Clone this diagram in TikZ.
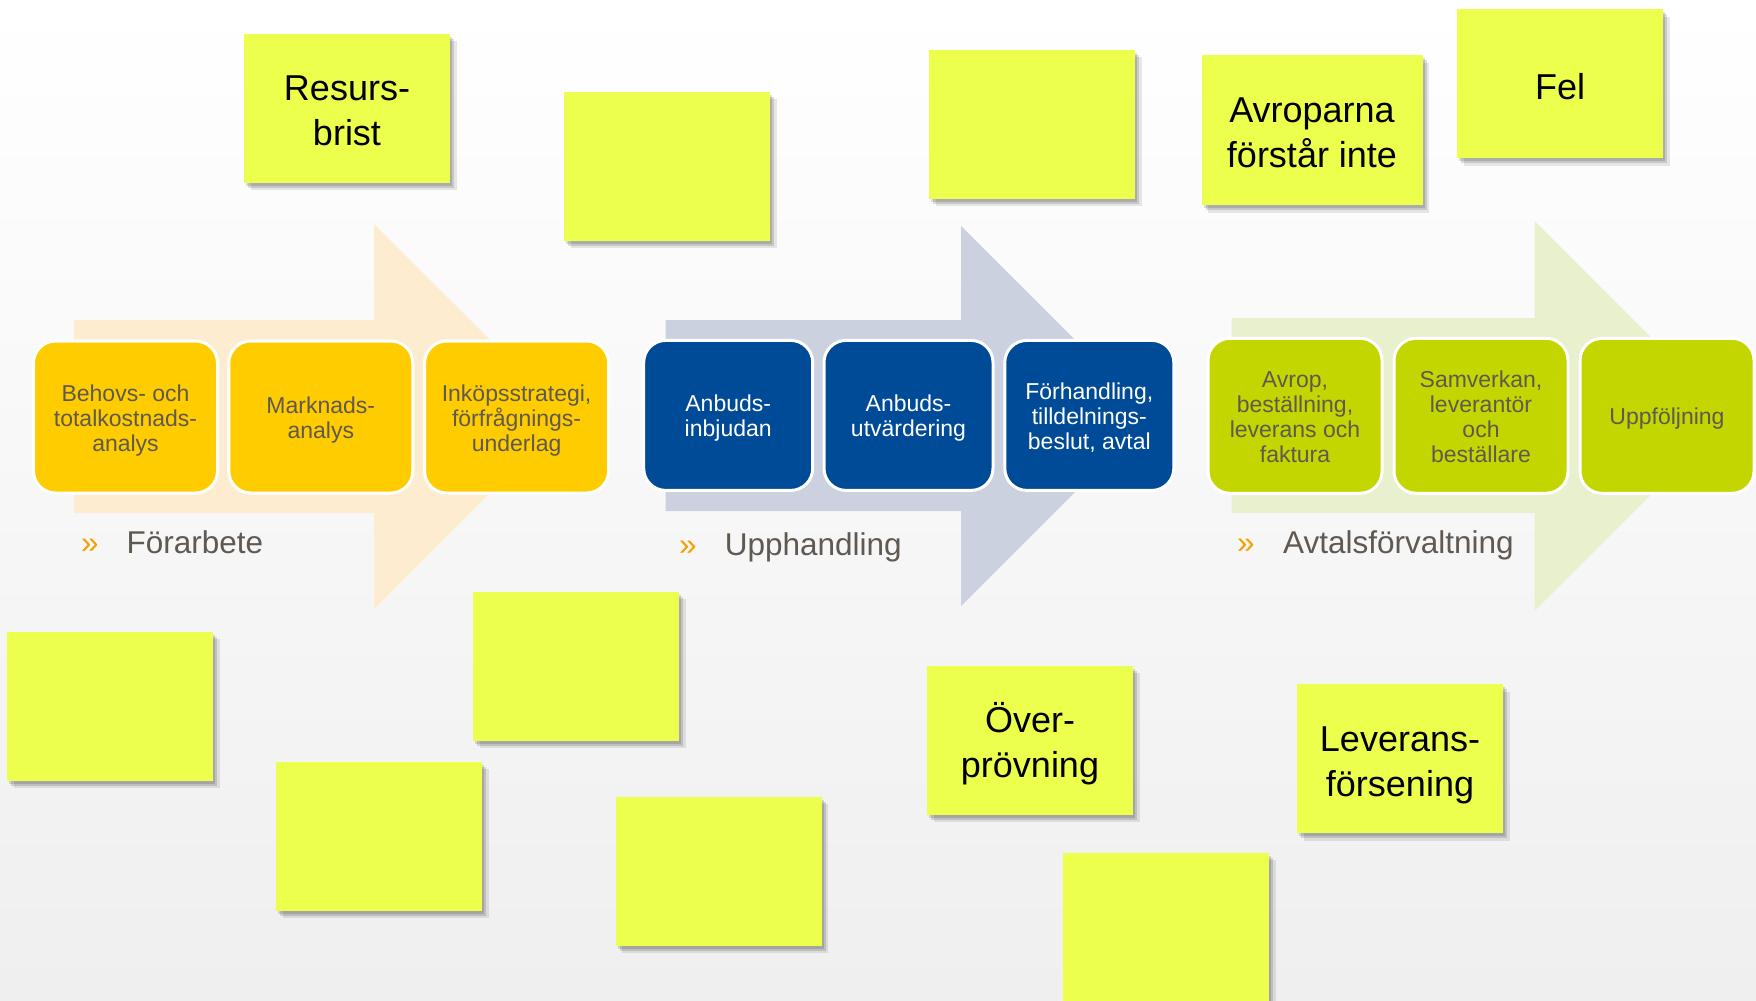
\documentclass[tikz,border=0pt]{standalone}
\usepackage{fontspec}
\setmainfont{Liberation Sans}
\usetikzlibrary{shadows}
\definecolor{sticky}{RGB}{237,255,77}
\definecolor{yel}{RGB}{255,204,0}
\definecolor{blu}{RGB}{0,75,152}
\definecolor{grn}{RGB}{196,214,0}
\definecolor{arrO}{RGB}{254,236,208}
\definecolor{arrB}{RGB}{203,209,222}
\definecolor{arrG}{RGB}{233,240,205}
\definecolor{txtg}{RGB}{95,89,82}
\definecolor{guilc}{RGB}{245,160,0}
\definecolor{bgbot}{RGB}{240,239,239}
\newcommand{\bt}{\rule{0pt}{1.04em}}
\newcommand{\bb}{\rule[-0.25em]{0pt}{0.25em}}
\newcommand{\nt}{\rule{0pt}{1.08em}}
\newcommand{\nb}{\rule[-0.22em]{0pt}{0.22em}}
\begin{document}
\begin{tikzpicture}[x=1pt,y=-1pt,
  note/.style={rectangle, fill=sticky, minimum width=206pt, minimum height=149pt, inner sep=0pt, align=center, text=black,
    font=\fontsize{36}{45}\selectfont,
    drop shadow={shadow xshift=2pt, shadow yshift=-3pt, fill=black, opacity=0.13},
    drop shadow={shadow xshift=4pt, shadow yshift=-5pt, fill=black, opacity=0.13},
    drop shadow={shadow xshift=6.5pt, shadow yshift=-7.5pt, fill=black, opacity=0.09}},
  stepbox/.style={rectangle, rounded corners=22pt, draw=white, line width=3pt, inner sep=0pt, align=center,
    font=\fontsize{23}{25}\selectfont},
  ybox/.style={stepbox, fill=yel, text=txtg, minimum width=184pt, minimum height=152pt},
  bbox/.style={stepbox, fill=blu, text=white, minimum width=169pt, minimum height=150pt},
  gbox/.style={stepbox, fill=grn, text=txtg, minimum width=174pt, minimum height=155pt},
  phase/.style={anchor=base west, font=\fontsize{31.5}{36}\selectfont, text=txtg, inner sep=0pt},
  guil/.style={anchor=base west, font=\fontsize{31.5}{36}\selectfont, text=guilc, inner sep=0pt}
]
\useasboundingbox (0,0) rectangle (1756,1001);
\fill[top color=white, bottom color=bgbot] (0,0) rectangle (1756,1001);

% phase arrows
\fill[arrO] (74,320) -- (374,320) -- (374,224) -- (566.5,416.5) -- (374,609) -- (374,513) -- (74,513) -- cycle;
\fill[arrB] (665.5,320) -- (961,320) -- (961,226) -- (1151,416) -- (961,606) -- (961,511) -- (665.5,511) -- cycle;
\fill[arrG] (1231.5,318) -- (1534.5,318) -- (1534.5,221) -- (1729.5,416) -- (1534.5,611) -- (1534.5,513) -- (1231.5,513) -- cycle;

% step boxes
\node[ybox] (y1) at (125.5,417) {\bt Behovs- och\\totalkostnads-\\analys\bb};
\node[ybox] (y2) at (320.8,417) {\bt Marknads-\\analys\bb};
\node[ybox] (y3) at (516.6,417) {\bt Inköpsstrategi,\\förfrågnings-\\underlag\bb};
\node[bbox] (b1) at (728.2,415.4) {\bt Anbuds-\\inbjudan\bb};
\node[bbox] (b2) at (908.5,415.4) {\bt Anbuds-\\utvärdering\bb};
\node[bbox] (b3) at (1089.3,415.4) {\bt Förhandling,\\tilldelnings-\\beslut, avtal\bb};
\node[gbox] (g1) at (1295,415.8) {\bt Avrop,\\beställning,\\leverans och\\faktura\bb};
\node[gbox] (g2) at (1481,415.8) {\bt Samverkan,\\leverantör\\och\\beställare\bb};
\node[gbox] (g3) at (1667,415.8) {\bt Uppföljning\bb};

% phase labels
\node[guil] (q1) at (81,553) {»};
\node[phase] (l1) at (126.5,553) {Förarbete};
\node[guil] (q2) at (679,555) {»};
\node[phase] (l2) at (724.7,555) {Upphandling};
\node[guil] (q3) at (1237,553) {»};
\node[phase] (l3) at (1283,553) {Avtalsförvaltning};

% sticky notes
\node[note] (n1) at (347,108) {\nt Resurs-\\brist\nb};
\node[note] (n2) at (667,166.4) {};
\node[note] (n3) at (1032,124) {};
\node[note, minimum width=221pt, minimum height=150pt] (n4) at (1312,130) {\nt Avroparna\\förstår inte\nb};
\node[note] (n5) at (1560,83.6) {\nt Fel\nb};
\node[note] (n6) at (110,706) {};
\node[note] (n7) at (576,666) {};
\node[note] (n8) at (379,836) {};
\node[note] (n9) at (718.5,871) {};
\node[note] (n10) at (1030,740) {\nt Över-\\prövning\nb};
\node[note] (n11) at (1400,758.7) {\nt Leverans-\\försening\nb};
\node[note] (n12) at (1166,927) {};
\end{tikzpicture}
\end{document}
